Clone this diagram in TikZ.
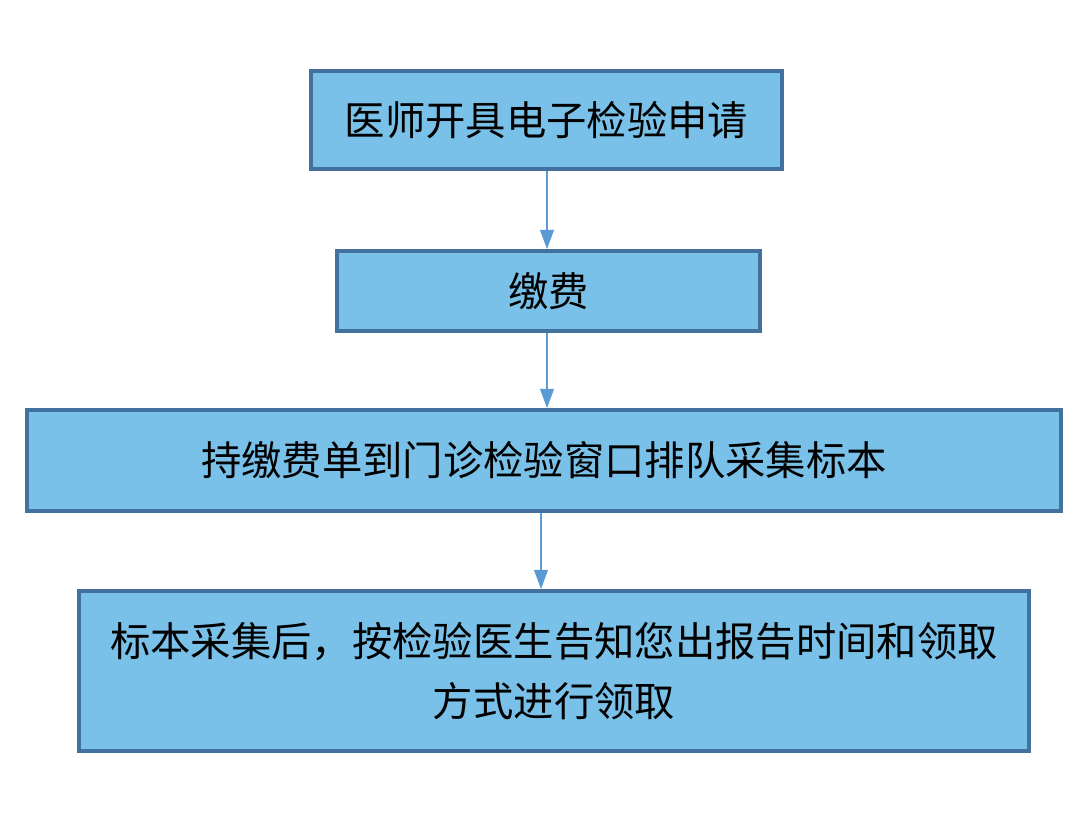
\documentclass[tikz,border=0pt]{standalone}
\usepackage{fontspec}
\setmainfont{Noto Sans CJK SC}
\usetikzlibrary{arrows.meta}
\definecolor{boxfill}{HTML}{79C1E8}
\definecolor{boxline}{HTML}{41719C}
\definecolor{arrowline}{HTML}{5B9BD5}
\begin{document}
\begin{tikzpicture}
\tikzset{ box/.style={draw=boxline, fill=boxfill, line width=2.6pt, inner sep=0pt,
            align=center, font=\fontsize{28.7}{43}\selectfont},
          flow/.style={draw=arrowline, line width=1.4pt, -{Triangle[length=0.48cm, width=0.34cm]}} }

\useasboundingbox (0,0) rectangle (27.1,20.975);

%\draw [lightgray, dashed](0,0) grid (27,21);

\node [box, minimum width=11.775cm, minimum height=2.45cm]  (apply)  at (13.6625,17.975) {医师开具电子检验申请};
\node [box, minimum width=10.575cm, minimum height=2.0cm]   (pay)    at (13.7125,13.7)   {缴费};
\node [box, minimum width=25.85cm,  minimum height=2.525cm] (sample) at (13.6,9.4625)    {持缴费单到门诊检验窗口排队采集标本};
\node [box, minimum width=23.75cm,  minimum height=4.0cm]   (report) at (13.85,4.2)      {标本采集后，按检验医生告知您出报告时间和领取\\方式进行领取};

\draw [flow] (apply.south -| 13.675,0)  -- (pay.north -| 13.675,0);
\draw [flow] (pay.south -| 13.675,0)    -- (sample.north -| 13.675,0);
\draw [flow] (sample.south -| 13.525,0) -- (report.north -| 13.525,0);

\end{tikzpicture}
\end{document}
